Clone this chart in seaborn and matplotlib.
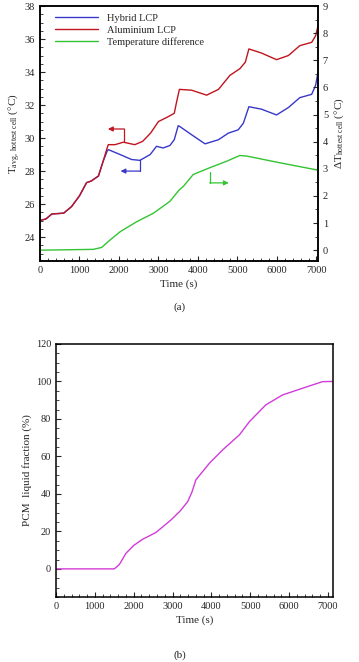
import numpy as np
import pandas as pd
import matplotlib
matplotlib.use("Agg")
import matplotlib.pyplot as plt
from matplotlib.ticker import MultipleLocator
import seaborn as sns

# =====================================================
# DATOS
# =====================================================

t_alu = [0, 150, 300, 600, 800, 1000, 1180, 1300, 1480, 1600, 1700, 1730,
         1900, 2110, 2400, 2600, 2800, 3000, 3250, 3400, 3460, 3530, 3840,
         4220, 4520, 4810, 5060, 5200, 5290, 5610, 5990, 6290, 6580, 6880,
         6980, 7040]
T_alu = [25.0, 25.1, 25.4, 25.45, 25.85, 26.5, 27.3, 27.4, 27.7, 28.6, 29.4,
         29.6, 29.6, 29.75, 29.6, 29.8, 30.3, 31.0, 31.3, 31.5, 32.2, 32.95,
         32.9, 32.6, 32.95, 33.8, 34.2, 34.6, 35.4, 35.15, 34.75, 35.0, 35.6,
         35.8, 36.2, 36.8]

t_hyb = [0, 150, 300, 600, 800, 1000, 1180, 1300, 1480, 1600, 1700, 1730,
         2030, 2320, 2530, 2790, 2950, 3120, 3290, 3400, 3500, 3540, 3840,
         4180, 4520, 4770, 5020, 5150, 5290, 5610, 5990, 6290, 6580, 6880,
         6980, 7040]
T_hyb = [25.0, 25.1, 25.4, 25.45, 25.85, 26.5, 27.3, 27.4, 27.7, 28.6, 29.2,
         29.3, 29.0, 28.7, 28.65, 29.0, 29.5, 29.4, 29.55, 29.9, 30.75, 30.7,
         30.2, 29.65, 29.9, 30.3, 30.5, 30.9, 31.9, 31.75, 31.4, 31.85, 32.45,
         32.65, 33.2, 34.0]

t_dif = [0, 1350, 1560, 1770, 2030, 2450, 2870, 3290, 3530, 3630, 3880, 4300,
         4730, 5060, 5230, 6080, 7040]
dT = [0.0, 0.03, 0.1, 0.37, 0.68, 1.05, 1.36, 1.8, 2.23, 2.35, 2.79, 3.04,
      3.28, 3.49, 3.47, 3.22, 2.95]

t_pcm = [0, 1500, 1630, 1800, 2000, 2230, 2570, 2960, 3200, 3390, 3500, 3600,
         3950, 4290, 4720, 4980, 5400, 5830, 6350, 6860, 7130]
fl = [0, 0, 2.3, 8.3, 12.5, 15.8, 19.4, 26.1, 31.0, 35.9, 41.0, 47.5, 56.4,
      63.5, 71.5, 78.6, 87.5, 92.8, 96.4, 99.9, 100]

# =====================================================
# ESTILO
# =====================================================

sns.set_theme(style="ticks")
plt.rcParams["font.family"] = ["Liberation Serif", "DejaVu Serif"]
plt.rcParams["mathtext.fontset"] = "custom"
plt.rcParams["mathtext.rm"] = "Liberation Serif"
plt.rcParams["mathtext.it"] = "Liberation Serif:italic"
plt.rcParams["xtick.direction"] = "in"
plt.rcParams["ytick.direction"] = "in"

fs = 7.5
c_hyb = "#3838c8"
c_alu = "#c0141e"
c_dif = "#33c433"
c_pcm = "#d23cd8"


def estilo_ejes(ax):
    for s in ax.spines.values():
        s.set_linewidth(1.1)
        s.set_color("black")
    ax.tick_params(which="major", length=3.5, width=0.8, labelsize=fs)
    ax.tick_params(which="minor", length=2, width=0.6)


fig = plt.figure(figsize=(3.59, 6.62), dpi=100)

# =====================================================
# (a) TEMPERATURAS
# =====================================================

ax1 = fig.add_axes([0.1114, 0.6057, 0.7744, 0.3852])
ax2 = ax1.twinx()

sns.lineplot(x=t_hyb, y=T_hyb, ax=ax1, color=c_hyb, lw=1.0,
             label="Hybrid LCP", legend=False)
sns.lineplot(x=t_alu, y=T_alu, ax=ax1, color=c_alu, lw=1.0,
             label="Aluminium LCP", legend=False)
sns.lineplot(x=t_dif, y=dT, ax=ax2, color=c_dif, lw=1.0,
             label="Temperature difference", legend=False)

ax1.set_xlim(0, 7040)
ax1.set_ylim(22.55, 38)
ax2.set_ylim(-0.4, 9)

ax1.xaxis.set_major_locator(MultipleLocator(1000))
ax1.xaxis.set_minor_locator(MultipleLocator(200))
ax1.yaxis.set_major_locator(MultipleLocator(2))
ax1.yaxis.set_minor_locator(MultipleLocator(0.5))
ax2.yaxis.set_major_locator(MultipleLocator(1))
ax2.yaxis.set_minor_locator(MultipleLocator(0.5))

estilo_ejes(ax1)
estilo_ejes(ax2)
ax1.tick_params(top=False, right=False)
ax2.tick_params(axis="y", which="both", right=True, left=False)

ax1.set_xlabel("Time (s)", fontsize=8, labelpad=3)
ax1.set_ylabel(r"T$_{\rm avg,\ hottest\ cell}$ (°C)", fontsize=8, labelpad=2)
ax2.set_ylabel(r"$\Delta$T$_{\rm hottest\ cell}$ (°C)", fontsize=8, labelpad=3)

h1, l1 = ax1.get_legend_handles_labels()
h2, l2 = ax2.get_legend_handles_labels()
ax1.legend(h1 + h2, l1 + l2, loc="upper left", bbox_to_anchor=(0.03, 0.995),
           frameon=False, fontsize=fs, handlelength=4.2, labelspacing=0.25,
           handletextpad=0.8, borderaxespad=0.2)

# flechas indicando el eje
kw = dict(arrowstyle="-|>", mutation_scale=7, lw=0.9, shrinkA=0, shrinkB=0)
ax1.plot([2135, 2135], [29.8, 30.55], color=c_alu, lw=0.9)
ax1.annotate("", xy=(1720, 30.55), xytext=(2135, 30.55),
             arrowprops=dict(color=c_alu, **kw))
ax1.plot([2530, 2530], [28.65, 28.0], color=c_hyb, lw=0.9)
ax1.annotate("", xy=(2040, 28.0), xytext=(2530, 28.0),
             arrowprops=dict(color=c_hyb, **kw))
ax2.plot([4300, 4300], [2.88, 2.48], color=c_dif, lw=0.9)
ax2.annotate("", xy=(4780, 2.48), xytext=(4300, 2.48),
             arrowprops=dict(color=c_dif, **kw))

fig.text(0.5, 1 - 307 / 662, "(a)", ha="center", va="center", fontsize=8)

# =====================================================
# (b) FRACCIÓN LÍQUIDA
# =====================================================

ax3 = fig.add_axes([0.156, 0.0982, 0.7716, 0.3822])

sns.lineplot(x=t_pcm, y=fl, ax=ax3, color=c_pcm, lw=1.0)

ax3.set_xlim(0, 7130)
ax3.set_ylim(-15, 120)
ax3.xaxis.set_major_locator(MultipleLocator(1000))
ax3.xaxis.set_minor_locator(MultipleLocator(200))
ax3.yaxis.set_major_locator(MultipleLocator(20))
ax3.yaxis.set_minor_locator(MultipleLocator(5))
estilo_ejes(ax3)
ax3.tick_params(top=False, right=False)

ax3.set_xlabel("Time (s)", fontsize=8, labelpad=3)
ax3.set_ylabel("PCM  liquid fraction (%)", fontsize=8, labelpad=3)

fig.text(0.5, 1 - 655 / 662, "(b)", ha="center", va="center", fontsize=8)

fig.savefig("out.png", dpi=100)
